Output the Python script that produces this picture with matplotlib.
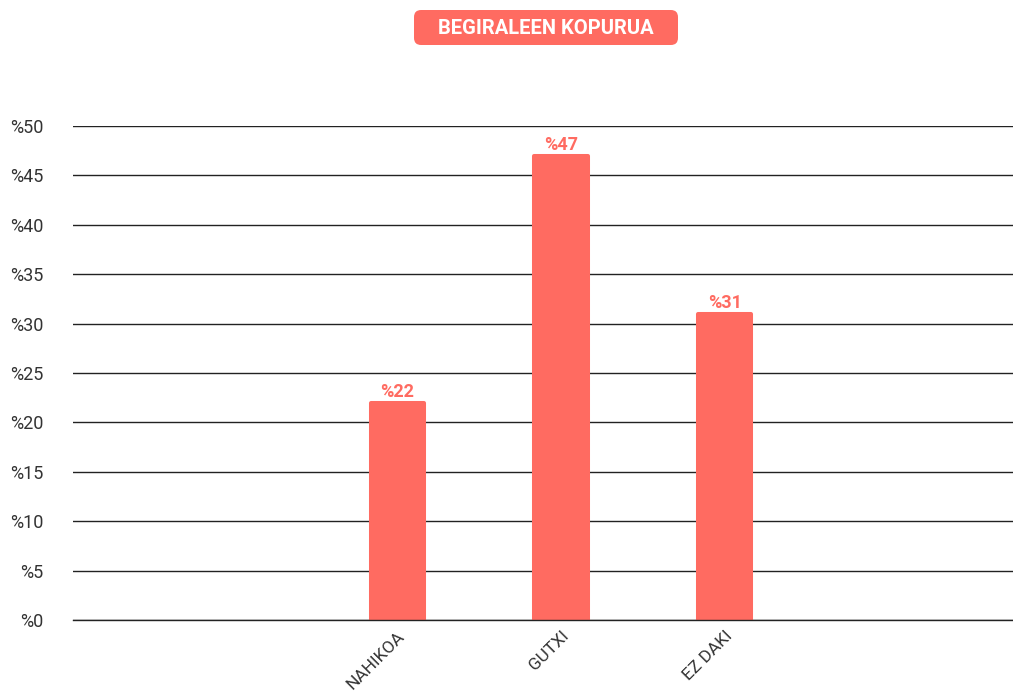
import matplotlib.pyplot as plt
from matplotlib.patches import FancyBboxPatch

# datuak
kategoriak = ['NAHIKOA', 'GUTXI', 'EZ DAKI']
ehunekoak = [22, 47, 31]
y_tickak = [0, 5, 10, 15, 20, 25, 30, 35, 40, 45, 50]
izenburua = 'BEGIRALEEN KOPURUA'

kolorea = '#FF6B61'
plt.rcParams['font.family'] = ['Roboto', 'DejaVu Sans']

W, H = 1013, 695
fig = plt.figure(figsize=(W / 100, H / 100), dpi=100)
ax = fig.add_axes([73 / W, 1 - 620 / H, 1 - 73 / W, (620 - 126) / H])

x = range(len(kategoriak))
# barrak (ertz biribilduak joinstyle-rekin)
ax.bar(x, ehunekoak, width=0.325, color=kolorea, edgecolor=kolorea,
       linewidth=2.9, joinstyle='round', zorder=3)

for i, v in zip(x, ehunekoak):
    ax.annotate('%' + str(v), (i, v), xytext=(0, 1.5), textcoords='offset points',
                ha='center', va='bottom', fontsize=13, fontweight='bold',
                color=kolorea, zorder=4)

ax.set_ylim(0, 50)
ax.set_xlim(-1.981, 3.76)
ax.set_yticks(y_tickak)
ax.set_yticklabels(['%' + str(t) for t in y_tickak])
ax.yaxis.grid(True, color='#222222', linewidth=1.0)
ax.set_axisbelow(False)
ax.axhline(0, color='#222222', linewidth=1.0, clip_on=False, zorder=4)
ax.tick_params(axis='y', length=0, pad=21, labelsize=13, labelcolor='#333333')
ax.set_xticks(list(x))
ax.set_xticklabels(kategoriak, rotation=45, ha='right', rotation_mode='anchor',
                   fontsize=12.5, color='#333333')
ax.tick_params(axis='x', length=0, pad=6)
for s in ax.spines.values():
    s.set_visible(False)

# izenburua
kutxa = FancyBboxPatch((414 / W, 1 - 45 / H), 264 / W, 35 / H,
                       boxstyle='round,pad=0,rounding_size=0.007',
                       transform=fig.transFigure, facecolor=kolorea,
                       edgecolor='none', mutation_aspect=W / H)
fig.patches.append(kutxa)
fig.text(546 / W, 1 - 28 / H, izenburua, ha='center', va='center',
         fontsize=14.5, fontweight='bold', color='white')

fig.savefig('out.png', dpi=100)
